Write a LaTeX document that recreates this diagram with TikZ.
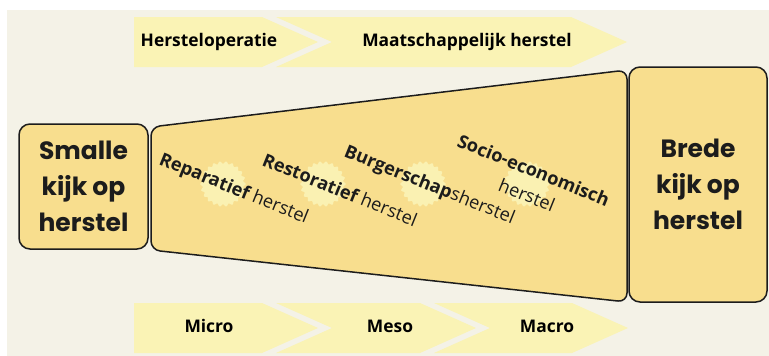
\documentclass[tikz,border=0pt]{standalone}
\usepackage{fontspec}
\newfontfamily\popfont{Poppins}
\newfontfamily\osfont{Open Sans}
\definecolor{bgbeige}{HTML}{F4F2E7}
\definecolor{chev}{HTML}{FAF3B5}
\definecolor{boxfill}{HTML}{F8DE8E}
\definecolor{blobfill}{HTML}{FAF1B2}
\definecolor{ink}{HTML}{1C1C1C}
\tikzset{
  chevron/.style={fill=chev, draw=none},
  bigbox/.style={draw=ink, line width=1.5pt, fill=boxfill, rounded corners=11pt},
  boxtext/.style={align=center, inner sep=0pt, font=\popfont\bfseries\fontsize{25}{36}\selectfont, text=ink},
  chevtext/.style={inner sep=0pt, anchor=base, font=\osfont\bfseries\fontsize{17.4}{17.4}\selectfont, text=black},
  trlab/.style={inner sep=0pt, anchor=base west, rotate=-22, font=\osfont\fontsize{18.2}{18.2}\selectfont, text=ink},
}
\begin{document}
\begin{tikzpicture}[x=1pt,y=-1pt]
\useasboundingbox (0,0) rectangle (769,356);
\fill[white] (0,0) rectangle (769,356);
\fill[bgbeige] (7,10) rectangle (769,356);
% top chevrons
\fill[chevron] (134,17) -- (262,17) -- (318,42) -- (262,67) -- (134,67) -- cycle;
\fill[chevron] (276,17) -- (571,17) -- (627,42) -- (571,67) -- (276,67) -- (332,42) -- cycle;
% bottom chevrons
\fill[chevron] (134,303) -- (262,303) -- (318,328) -- (262,353) -- (134,353) -- cycle;
\fill[chevron] (276,303) -- (420,303) -- (476,328) -- (420,353) -- (276,353) -- (332,328) -- cycle;
\fill[chevron] (434,303) -- (572,303) -- (628,328) -- (572,353) -- (434,353) -- (490,328) -- cycle;
% boxes
\node[bigbox, minimum width=129pt, minimum height=125pt] (smal) at (83.5,186.5) {};
\node[bigbox, minimum width=138pt, minimum height=235pt] (breed) at (698,184.5) {};
\node[boxtext] (smalt) at (83.5,186.5) {Smalle\\kijk op\\herstel};
\node[boxtext] (breedt) at (698,184.5) {Brede\\kijk op\\herstel};
% trapezoid
\draw[bigbox, rounded corners=9pt] (151,127) -- (627,70) -- (627,302) -- (151,250) -- cycle;
% blobs
\foreach \cx in {223,323,423,527}{
  \fill[blobfill, shift={(\cx,184)}] plot[variable=\t, domain=0:359, samples=240]
    ({(21.5+1.2*cos(22*\t))*cos(\t)}, {(21.5+1.2*cos(22*\t))*sin(\t)}) -- cycle;
}
% chevron texts
\node[chevtext] (hop) at (209,46) {Hersteloperatie};
\node[chevtext] (mh) at (467,46) {Maatschappelijk herstel};
\node[chevtext] (micro) at (209,332) {Micro};
\node[chevtext] (meso) at (390,332) {Meso};
\node[chevtext] (macro) at (547,332) {Macro};
% trapezoid labels
\node[trlab] (rep) at (158,164) {\bfseries Reparatief\mdseries{} herstel};
\node[trlab] (res) at (261,165) {\bfseries Restoratief\mdseries{} herstel};
\node[trlab] (bur) at (343,156) {\bfseries Burgerschap\mdseries sherstel};
\node[trlab] (soc) at (456,146) {\bfseries Socio-economisch};
\node[trlab] (soch) at (497,190) {herstel};
\end{tikzpicture}
\end{document}
